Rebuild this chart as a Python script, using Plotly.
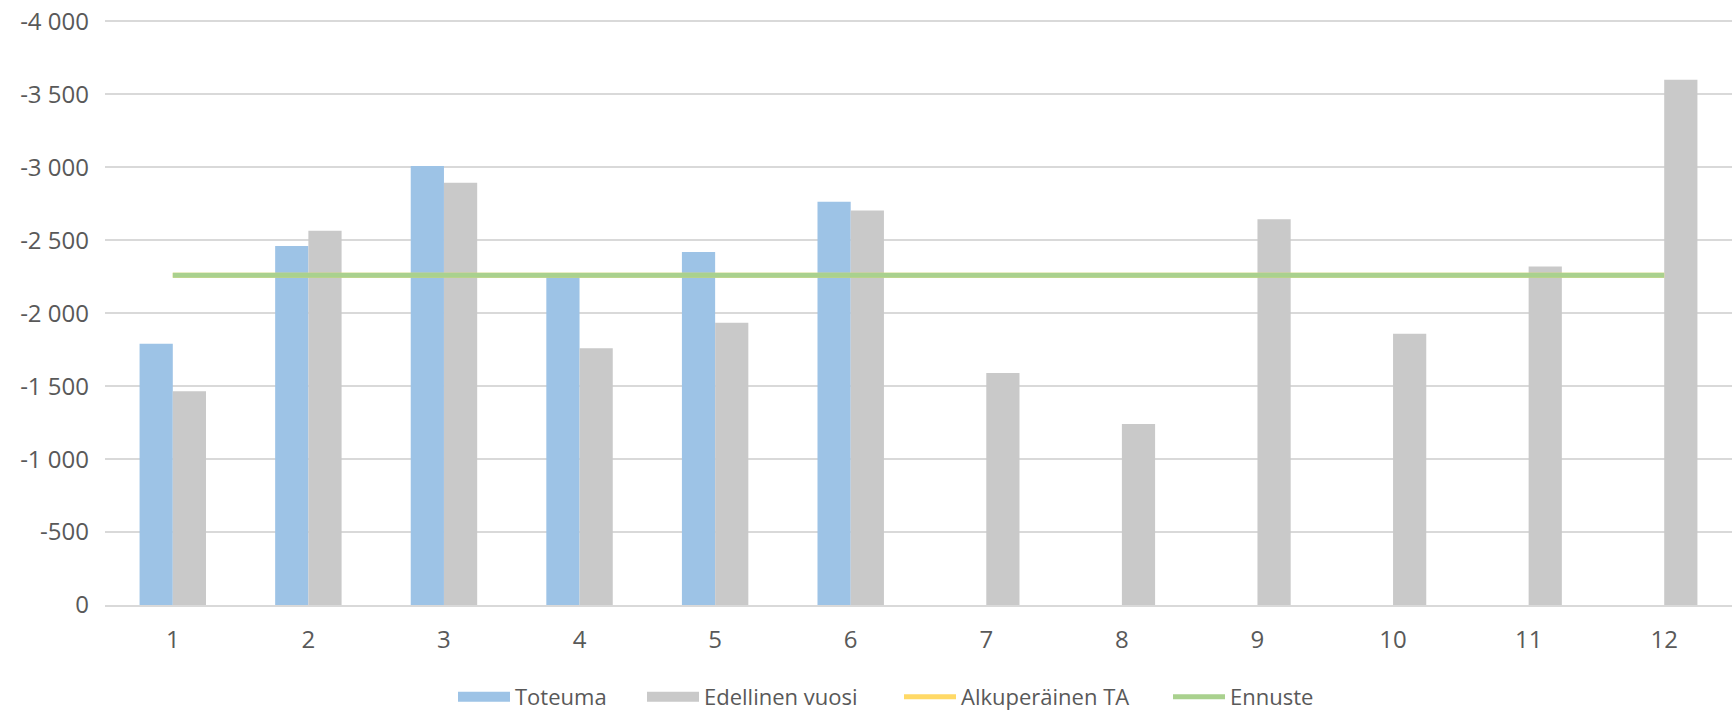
import plotly.graph_objects as go

categories = ["1", "2", "3", "4", "5", "6", "7", "8", "9", "10", "11", "12"]
toteuma = [-1790, -2460, -3010, -2265, -2420, -2765]
edellinen = [-1465, -2565, -2895, -1760, -1935, -2705, -1590, -1240, -2645, -1860, -2320, -3600]
alkuperainen_ta = [-2260] * 12
ennuste = [-2260] * 12

tick_vals = [0, -500, -1000, -1500, -2000, -2500, -3000, -3500, -4000]
tick_text = ["0", "-500", "-1 000", "-1 500", "-2 000", "-2 500", "-3 000", "-3 500", "-4 000"]

font_family = "Open Sans, Noto Sans, sans-serif"
text_color = "#595959"
blue = "#9DC3E6"
gray = "#C9C9C9"
yellow = "#FFD966"
green = "#A9D18E"

W, H = 1733, 713

fig = go.Figure()
fig.add_trace(go.Bar(x=categories[:len(toteuma)], y=toteuma, name="Toteuma",
                     legendgroup="tot", showlegend=False,
                     marker=dict(color=blue, line=dict(width=0))))
fig.add_trace(go.Bar(x=categories, y=edellinen, name="Edellinen vuosi",
                     legendgroup="ed", showlegend=False,
                     marker=dict(color=gray, line=dict(width=0))))
# legend swatches (wide rectangles like the original)
fig.add_trace(go.Scatter(x=[None], y=[None], name="Toteuma", legendgroup="tot",
                         legend="legend", mode="lines", line=dict(color=blue, width=14)))
fig.add_trace(go.Scatter(x=[None], y=[None], name="Edellinen vuosi", legendgroup="ed",
                         legend="legend2", mode="lines", line=dict(color=gray, width=14)))
fig.add_trace(go.Scatter(x=categories, y=alkuperainen_ta, name="Alkuperäinen TA", mode="lines",
                         legend="legend3", line=dict(color=yellow, width=5)))
fig.add_trace(go.Scatter(x=categories, y=ennuste, name="Ennuste", mode="lines",
                         legend="legend4", line=dict(color=green, width=5)))

def leg(xpx):
    return dict(orientation="h", xref="container", yref="container",
                x=xpx / W, xanchor="left", y=(H - 697) / H, yanchor="middle",
                font=dict(size=22, color=text_color), itemwidth=52,
                bgcolor="rgba(0,0,0,0)")

fig.update_layout(
    width=W, height=H,
    margin=dict(l=105, r=1, t=20, b=108),
    paper_bgcolor="white", plot_bgcolor="white",
    barmode="group", bargap=0.51, bargroupgap=0,
    font=dict(family=font_family, size=22, color=text_color),
    showlegend=True,
    legend=leg(453), legend2=leg(642), legend3=leg(899), legend4=leg(1168),
)
fig.update_xaxes(type="category", showgrid=False, showline=True, linecolor="#D9D9D9",
                 linewidth=1.5, ticks="", automargin=False,
                 tickfont=dict(size=24, color=text_color), ticklabelstandoff=12)
fig.update_yaxes(range=[0, -4010], tickvals=tick_vals, ticktext=tick_text,
                 showgrid=True, gridcolor="#D9D9D9", gridwidth=1.5, zeroline=False,
                 showline=False, ticks="", automargin=False, ticklabeloverflow="allow",
                 tickfont=dict(size=24, color=text_color), ticklabelstandoff=15)

fig.write_html("out.html", config={"displayModeBar": False},
               post_script="document.body.style.margin='0';document.body.style.overflow='hidden';")
